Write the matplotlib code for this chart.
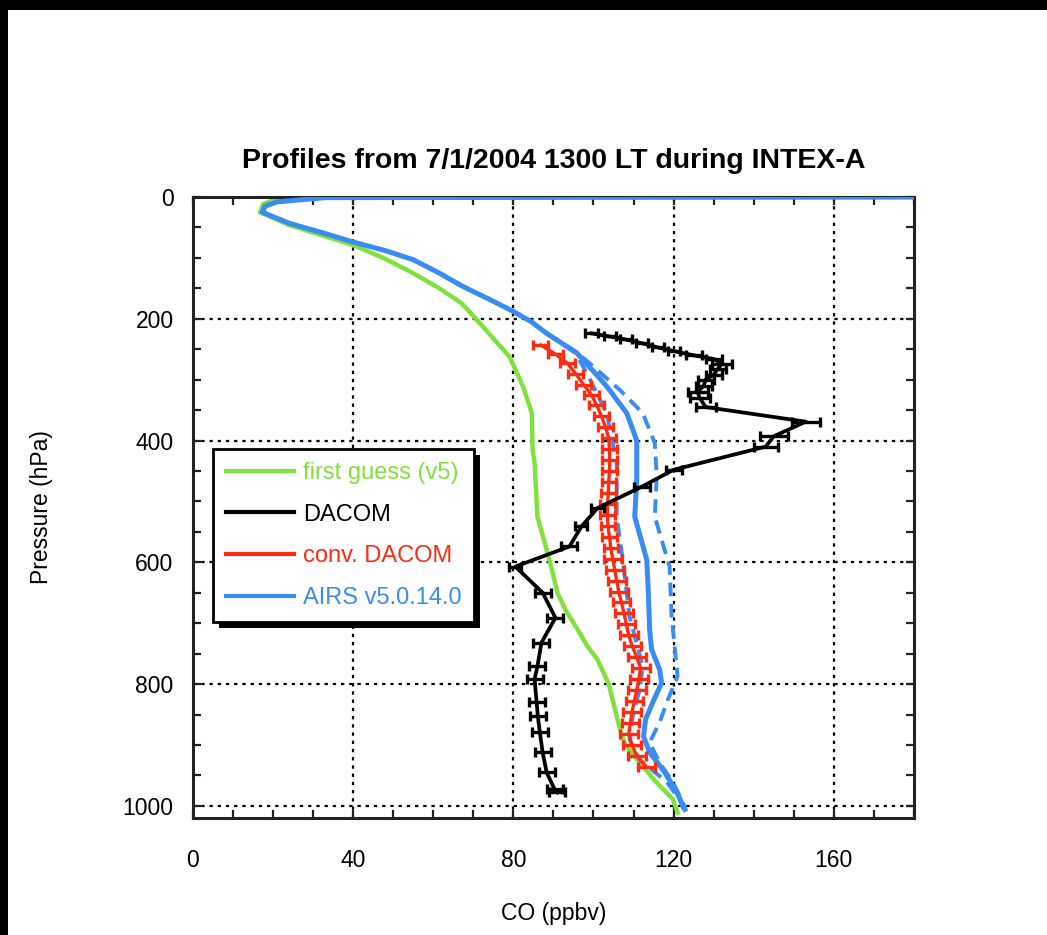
import matplotlib
matplotlib.use("Agg")
import matplotlib.pyplot as plt
from matplotlib.lines import Line2D
from matplotlib.patches import Rectangle
from matplotlib.transforms import IdentityTransform
from matplotlib.ticker import MultipleLocator

plt.rcParams['font.family'] = ['Liberation Sans', 'DejaVu Sans']

GREEN = '#80e23c'
BLACK = '#000000'
RED = '#ff2a12'
BLUE = '#3a8cf5'

# First guess (v5) profile
fg_p = [0, 5, 12, 25, 46, 79, 100, 125, 150, 174, 207, 240, 262, 311, 355, 415, 437,
        525, 596, 650, 678, 710, 738, 760, 800, 840, 879, 900, 929, 960, 989, 1011]
fg_co = [23, 20, 17.5, 16.7, 24, 40, 47.5, 55, 61.5, 67, 71.6, 76, 79, 82.4, 84.6, 84.8,
         85.3, 86, 89, 91, 93, 96, 98.5, 101, 103.8, 105.3, 106.8, 108, 111.5, 115.5,
         119.8, 121]

# AIRS v5.0.14.0 retrieval
airs_p = [0, 1, 8, 15, 25, 43, 60, 74, 88, 103, 125, 147, 168, 188, 205, 224, 256, 290,
          311, 355, 400, 464, 525, 596, 650, 710, 743, 776, 798, 830, 858, 886, 912,
          945, 978, 1006]
airs_co = [200, 33, 21, 18, 17.3, 24, 33, 40, 48, 55, 61.5, 67.4, 74, 80, 84.5, 88.3,
           95.8, 100.5, 103.3, 108.3, 110.8, 110.8, 110.3, 113.3, 113.7, 114, 114.5,
           116.5, 117, 114.8, 113, 112.5, 114, 117.8, 120.8, 122.8]

# AIRS upper / lower bounds
airs_hi_p = [224, 256, 273, 317, 355, 404, 459, 525, 607, 689, 787, 830, 863, 896,
             929, 961, 994, 1006]
airs_hi_co = [88.3, 96, 99, 106.6, 112.3, 115.3, 115.8, 115.3, 119, 119.5, 121, 118.3,
              116.5, 114, 116.5, 119.8, 122.3, 123]
airs_lo_p = [224, 256, 289, 355, 437, 525, 596, 689, 771, 809, 853, 891, 924, 961,
             989, 1006]
airs_lo_co = [88.3, 95.5, 98.3, 103.3, 105.8, 105.8, 107.3, 109, 112.3, 111.5, 109.8,
              109, 111.5, 118.3, 121.5, 122.5]

# Convolved DACOM profile
conv_p = [243, 258, 273, 290, 308, 325, 342, 360, 378, 396, 414, 432, 450, 468, 486,
          504, 522, 540, 558, 576, 594, 612, 630, 648, 666, 684, 702, 720, 738, 756,
          774, 792, 810, 828, 846, 864, 882, 900, 918, 936]
conv_co = [86.8, 90.5, 93.5, 95.5, 97.5, 99.5, 100.8, 102, 103, 103.8, 104, 104, 104,
           103.8, 103.7, 103.5, 103.5, 103.6, 104, 104.3, 104.8, 105.3, 105.8, 106.3,
           107, 107.6, 108.2, 108.8, 109.7, 110.8, 111.8, 111.3, 110.8, 110.2, 109.6,
           109.2, 108.8, 109.6, 110.8, 113.2]
conv_err = [1.8] * 20 + [2.2] * 20

# DACOM in-situ profile
dacom_p = [224, 229, 234, 240, 247, 253, 260, 266, 274, 283, 292, 300, 310, 320, 330,
           345, 369, 393, 410, 448, 476, 511, 541, 574, 607, 650, 691, 732, 771, 792,
           830, 853, 879, 912, 945, 973, 978]
dacom_co = [99.5, 104, 108, 112, 116, 120, 125, 130, 132, 131, 130, 128, 127.5, 126,
            126.5, 128, 153, 145, 143, 120, 112, 101, 97, 94, 80.5, 87.3, 90.5, 87, 86,
            85.3, 85.8, 86.1, 86.6, 87.3, 88.3, 90.3, 91]
dacom_err = [1.5, 1.5, 1.5, 1.5, 1.5, 1.5, 2, 2, 2.5, 2, 2, 2, 2, 2.5, 2.5, 2.5, 3.5,
             3.5, 3, 2, 2, 1.5, 1.5, 2, 1.5, 2, 2, 2, 2, 2, 2, 2, 2, 2, 2, 2, 2]

legend_labels = ['first guess (v5)', 'DACOM', 'conv. DACOM', 'AIRS v5.0.14.0']
legend_colors = [GREEN, BLACK, RED, BLUE]

fig = plt.figure(figsize=(10.47, 9.35), dpi=100)
ax = fig.add_axes([0.1843, 0.1251, 0.6886, 0.6642])

ax.plot(fg_co, fg_p, color=GREEN, lw=3.2, zorder=2)
ax.plot(airs_co, airs_p, color=BLUE, lw=3.6, zorder=3)
ax.plot(airs_hi_co, airs_hi_p, color=BLUE, lw=2.8, ls=(0, (3.5, 2)), zorder=3)
ax.plot(airs_lo_co, airs_lo_p, color=BLUE, lw=2.8, ls=(0, (3.5, 2)), zorder=3)
ax.errorbar(conv_co, conv_p, xerr=conv_err, color=RED, lw=2.4, elinewidth=2.4,
            capsize=3.5, capthick=2.4, zorder=4)
ax.errorbar(dacom_co, dacom_p, xerr=dacom_err, color=BLACK, lw=2.7, elinewidth=2.4,
            capsize=3.5, capthick=2.4, zorder=5)

ax.set_xlim(0, 180)
ax.set_ylim(1020, 0)
ax.xaxis.set_major_locator(MultipleLocator(40))
ax.xaxis.set_minor_locator(MultipleLocator(10))
ax.yaxis.set_major_locator(MultipleLocator(200))
ax.yaxis.set_minor_locator(MultipleLocator(50))
ax.tick_params(which='both', direction='in', top=True, right=True,
               length=6, width=1.6, color='#222222')
ax.tick_params(axis='x', which='major', pad=22, labelsize=16.5)
ax.tick_params(axis='y', which='major', pad=14, labelsize=16.5)
ax.grid(True, which='major', color='black', lw=1.6, ls=(0, (1.5, 2.2)))
ax.set_axisbelow(True)
for s in ax.spines.values():
    s.set_linewidth(2.2)
    s.set_color('#222222')

ax.set_xlabel('CO (ppbv)', fontsize=16.5, labelpad=22)
ax.set_ylabel('Pressure (hPa)', fontsize=16.5, labelpad=50)
ax.set_title('Profiles from 7/1/2004 1300 LT during INTEX-A', fontsize=20.5,
             fontweight='bold', pad=21)

handles = [Line2D([], [], color=c, lw=3) for c in legend_colors]
leg = ax.legend(handles, legend_labels, loc='upper left',
                bbox_to_anchor=(0.0277, 0.594), borderaxespad=0, fontsize=17,
                frameon=True, fancybox=False, edgecolor='black', framealpha=1,
                handlelength=2.9, handletextpad=0.35, labelspacing=0.83,
                borderpad=0.55, labelcolor='linecolor')
leg.get_frame().set_linewidth(2)
leg.set_zorder(10)

# Black drop shadow behind the legend box
fig.canvas.draw()
bb = leg.get_window_extent()
shadow = Rectangle((bb.x0 + 6, bb.y0 - 6), bb.width, bb.height, transform=IdentityTransform(),
                   facecolor='black', edgecolor='none', zorder=9)
fig.add_artist(shadow)
leg.remove()
fig.add_artist(leg)
leg.set_zorder(11)

# Black frame band along the top and left edges
fig.add_artist(Rectangle((0, 1 - 10 / 935), 1, 10 / 935, transform=fig.transFigure,
                         facecolor='black', edgecolor='none', zorder=20))
fig.add_artist(Rectangle((0, 0), 8 / 1047, 1, transform=fig.transFigure,
                         facecolor='black', edgecolor='none', zorder=20))

fig.savefig('out.png', dpi=100)
